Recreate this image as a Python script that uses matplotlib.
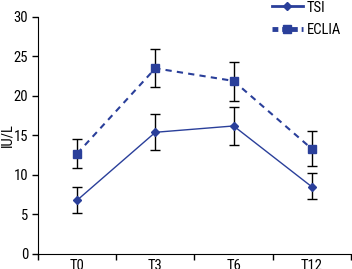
import matplotlib
matplotlib.use("Agg")
import matplotlib.pyplot as plt
from matplotlib.lines import Line2D

plt.rcParams["font.family"] = ["Roboto Condensed", "DejaVu Sans"]

categories = ["T0", "T3", "T6", "T12"]
tsi = [6.8, 15.4, 16.2, 8.5]
tsi_lo = [5.2, 13.1, 13.8, 7.0]
tsi_hi = [8.5, 17.7, 18.6, 10.2]
eclia = [12.7, 23.5, 21.9, 13.3]
eclia_lo = [10.9, 21.1, 19.4, 11.1]
eclia_hi = [14.5, 25.9, 24.3, 15.5]

color = "#2a3f9a"
fs = 10.5

fig = plt.figure(figsize=(3.52, 2.69), dpi=100)
ax = fig.add_axes([0.108, 0.056, 0.889, 0.881])

x = list(range(len(categories)))
err_t = [[v - l for v, l in zip(tsi, tsi_lo)], [h - v for v, h in zip(tsi, tsi_hi)]]
err_e = [[v - l for v, l in zip(eclia, eclia_lo)], [h - v for v, h in zip(eclia, eclia_hi)]]

ax.errorbar(x, tsi, yerr=err_t, fmt="none", ecolor="black", elinewidth=1, capsize=3.5, capthick=1, zorder=2)
ax.errorbar(x, eclia, yerr=err_e, fmt="none", ecolor="black", elinewidth=1, capsize=3.5, capthick=1, zorder=2)
ax.plot(x, tsi, color=color, lw=1, marker="D", ms=4, zorder=3)
ax.plot(x, eclia, color=color, lw=1.5, ls=(0, (3, 2.5)), marker="s", ms=6, zorder=3)

ax.set_xlim(-0.5, 3.5)
ax.set_ylim(0, 30)
ax.set_yticks(range(0, 31, 5))
ax.set_xticks([-0.5, 0.5, 1.5, 2.5, 3.5])
ax.set_xticklabels([])
ax.set_xticks(x, minor=True)
ax.set_xticklabels(categories, minor=True)
ax.tick_params(axis="x", which="minor", length=0, pad=4)
ax.tick_params(axis="both", which="major", length=4, width=1, direction="out", labelsize=fs, pad=3)
ax.tick_params(axis="x", which="minor", labelsize=fs)
for s in ["top", "right"]:
    ax.spines[s].set_visible(False)
ax.set_ylabel("IU/L", fontsize=fs)
ax.yaxis.set_label_coords(-0.075, 0.5)

handles = [
    Line2D([], [], color=color, lw=2, marker="D", ms=4),
    Line2D([], [], color=color, lw=3.5, ls=(0, (1.2, 0.8)), marker="s", ms=6),
]
fig.legend(handles, ["TSI", "ECLIA"], loc="upper left", bbox_to_anchor=(272 / 352, 0.998),
           frameon=False, fontsize=fs, borderpad=0, borderaxespad=0,
           handlelength=2.1, labelspacing=0.6, handletextpad=0.3)

fig.savefig("out.png", dpi=100)
